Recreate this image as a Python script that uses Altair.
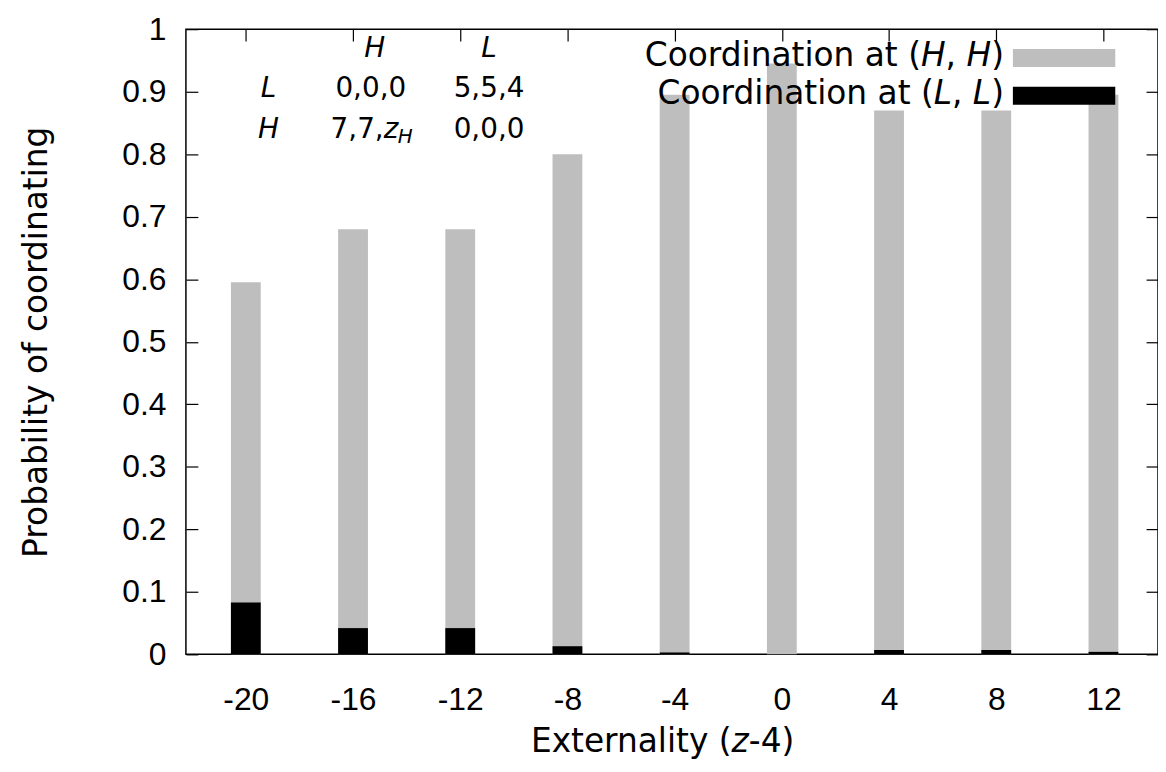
import altair as alt
import pandas as pd

# ---- data ----
externality = [-20, -16, -12, -8, -4, 0, 4, 8, 12]
coord_hh = [0.595, 0.68, 0.68, 0.80, 0.895, 0.945, 0.87, 0.87, 0.895]
coord_ll = [0.083, 0.042, 0.042, 0.013, 0.003, 0.0, 0.007, 0.007, 0.004]
y_ticks = [0, 0.1, 0.2, 0.3, 0.4, 0.5, 0.6, 0.7, 0.8, 0.9, 1.0]
legend_prefix = "Coordination at ("
legend_vars = ["H", "L"]

df = pd.DataFrame({"x": externality, "hh": coord_hh, "ll": coord_ll})

FONT = "DejaVu Sans"
TICKFONT = "Liberation Sans"
FS = 28
TFS = 33
LFS = 32
GRAY = "#bebebe"

x_scale = alt.Scale(domain=[-22.05, 13.85], nice=False, zero=False)
y_scale = alt.Scale(domain=[0, 1], nice=False, zero=True)

x_axis = alt.Axis(values=externality, orient="bottom", offset=-12, tickSize=12,
                  tickColor="black", tickWidth=1.2, domain=False, grid=False,
                  labelExpr="'' + datum.value", labelPadding=30,
                  labelFont=TICKFONT, labelFontSize=LFS, labelColor="black",
                  title=None)
y_axis = alt.Axis(values=y_ticks, orient="left", offset=-12, tickSize=12,
                  tickColor="black", tickWidth=1.2, domain=False, grid=False,
                  format="~g", labelPadding=20,
                  labelFont=TICKFONT, labelFontSize=LFS, labelColor="black",
                  title="Probability of coordinating", titleFont=FONT,
                  titleFontSize=TFS, titleFontWeight="normal", titleColor="black",
                  titlePadding=69)

base = alt.Chart(df)

gray_bars = base.mark_bar(size=30, color=GRAY).encode(
    x=alt.X("x:Q", scale=x_scale, axis=x_axis),
    y=alt.Y("hh:Q", scale=y_scale, axis=y_axis),
)

black_bars = base.mark_bar(size=30, color="black").encode(
    x=alt.X("x:Q", scale=x_scale, axis=None),
    y=alt.Y("ll:Q", scale=y_scale, axis=None),
)

# mirrored ticks on top and right
mirror = base.mark_bar(size=30, opacity=0).encode(
    x=alt.X("x:Q", scale=x_scale,
            axis=alt.Axis(values=externality, orient="top", offset=-12, tickSize=12,
                          tickColor="black", tickWidth=1.2, domain=False, grid=False,
                          labels=False, title=None)),
    y=alt.Y("hh:Q", scale=y_scale,
            axis=alt.Axis(values=y_ticks, orient="right", offset=-12, tickSize=12,
                          tickColor="black", tickWidth=1.2, domain=False, grid=False,
                          labels=False, title=None)),
)

one = alt.Data(values=[{}])


def txt(s, x, y, align="center", italic=False, size=FS, baseline="middle"):
    kw = dict(font=FONT, fontSize=size, align=align, baseline=baseline, color="black")
    if italic:
        kw["fontStyle"] = "italic"
    return alt.Chart(one).mark_text(**kw).encode(
        x=alt.value(x), y=alt.value(y), text=alt.value(s))


def box(x, x2, y, y2, color):
    return alt.Chart(one).mark_rect(color=color).encode(
        x=alt.value(x), x2=alt.value(x2), y=alt.value(y), y2=alt.value(y2))


# DejaVu Sans advance widths (em) for building mixed italic legend text
EM = TFS
W_PAREN, W_COMMA, W_SPACE = 0.390 * EM, 0.318 * EM, 0.318 * EM
W_VAR = {"H": 0.752 * EM, "L": 0.557 * EM}


def legend_row(var, end, y):
    wv = W_VAR[var]
    p1 = end - W_PAREN
    p2 = p1 - wv - W_SPACE
    p3 = p2 - W_COMMA
    p4 = p3 - wv
    return [
        txt(")", end, y, align="right", size=TFS),
        txt(var, p1, y, align="right", italic=True, size=TFS),
        txt(",", p2, y, align="right", size=TFS),
        txt(var, p3, y, align="right", italic=True, size=TFS),
        txt(legend_prefix, p4, y, align="right", size=TFS),
    ]


annotations = [
    txt("H", 190, 20, italic=True),
    txt("L", 305, 20, italic=True),
    txt("L", 83, 60, italic=True),
    txt("H", 83, 101, italic=True),
    txt("0,0,0", 186, 60),
    txt("5,5,4", 305, 60),
    txt("7,7,", 199, 101, align="right"),
    txt("z", 199, 101, align="left", italic=True),
    txt("H", 213, 109, align="left", italic=True, size=20),
    txt("0,0,0", 305, 101),
    *legend_row(legend_vars[0], 823, 27),
    *legend_row(legend_vars[1], 823, 65),
    box(832, 935, 20, 38, GRAY),
    box(832, 935, 58, 76, "black"),
    # x-axis title with italic z
    txt("Externality (", 549, 717, align="right", size=TFS),
    txt("z", 549, 717, align="left", italic=True, size=TFS),
    txt("-4)", 549 + 0.525 * TFS, 717, align="left", size=TFS),
]

chart = alt.layer(gray_bars, black_bars, mirror, *annotations).resolve_axis(
    x="independent", y="independent"
).properties(
    width=978, height=629,
    autosize=alt.AutoSizeParams(type="none"),
    padding={"left": 179, "top": 19, "right": 0, "bottom": 106},
).configure_view(stroke="black", strokeWidth=1.5)

chart.save("out.html", embed_options={"renderer": "svg", "actions": False})
